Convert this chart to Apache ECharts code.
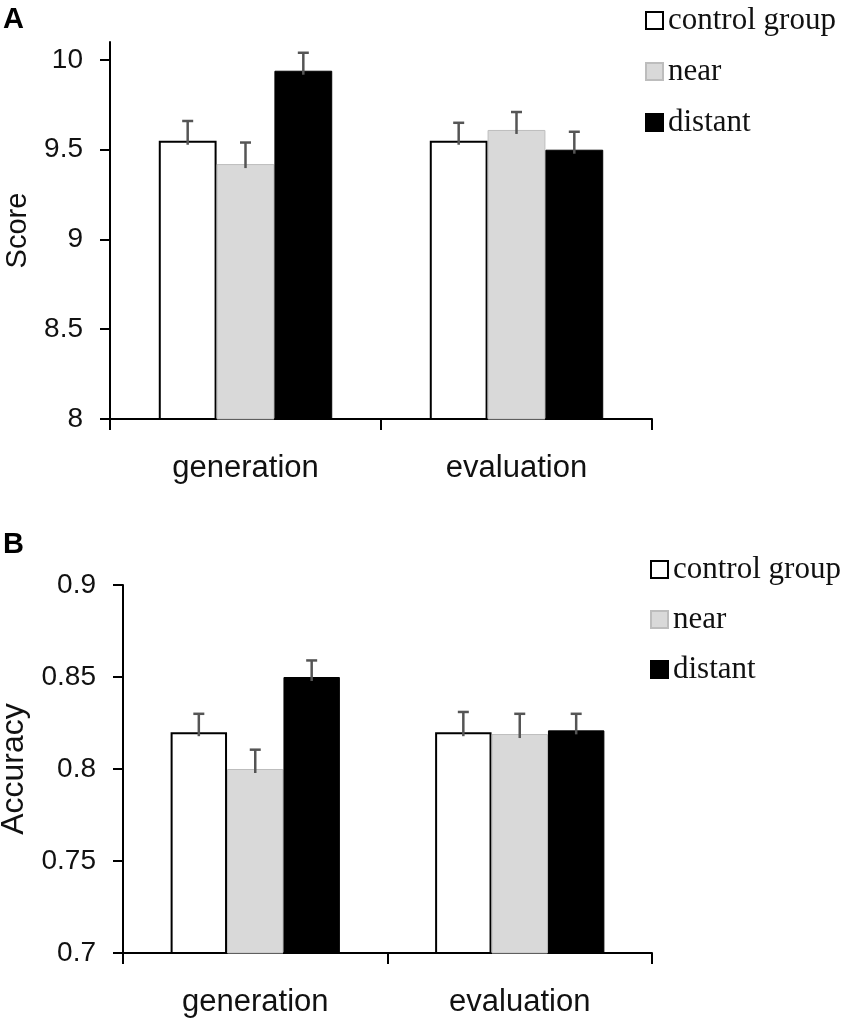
<!DOCTYPE html>
<html>
<head>
<meta charset="utf-8">
<script src="https://cdn.jsdelivr.net/npm/echarts@6/dist/echarts.min.js"></script>
<style>html,body{margin:0;padding:0;background:#fff;}#main{width:850px;height:1019px;}</style>
</head>
<body>
<div id="main"></div>
<script>
const categories = ['generation', 'evaluation'];
const seriesNames = ['control group', 'near', 'distant'];
const scoreTicks = [8, 8.5, 9, 9.5, 10];
const accTicks = [0.7, 0.75, 0.8, 0.85, 0.9];

const scoreControl = [9.55, 9.55];
const scoreNear = [9.42, 9.61];
const scoreDistant = [9.94, 9.50];
const scoreErrControl = [0.11, 0.10];
const scoreErrNear = [0.12, 0.10];
const scoreErrDistant = [0.10, 0.10];

const accControl = [0.82, 0.82];
const accNear = [0.80, 0.819];
const accDistant = [0.85, 0.821];
const accErrControl = [0.01, 0.011];
const accErrNear = [0.0105, 0.011];
const accErrDistant = [0.009, 0.009];

const GAP = 0.36;
const sans = 'Liberation Sans, Arial, sans-serif';
const serif = 'Liberation Serif, Times New Roman, serif';

const barStyles = [
  {color: '#ffffff', borderColor: '#000000', borderWidth: 2},
  {color: '#d9d9d9', borderColor: '#bdbdbd', borderWidth: 1},
  {color: '#000000', borderColor: '#000000', borderWidth: 1}
];

function bars(gi, arrs) {
  return arrs.map((d, k) => ({
    name: seriesNames[k], type: 'bar', xAxisIndex: gi, yAxisIndex: gi,
    data: d, barGap: '0%', barCategoryGap: (GAP * 100) + '%',
    itemStyle: barStyles[k], z: 2, silent: true
  }));
}

function errs(gi, vals, es) {
  return vals.map((v, k) => ({
    type: 'custom', xAxisIndex: gi, yAxisIndex: gi, z: 5, silent: true,
    encode: {x: 0, y: 1},
    data: v.map((val, i) => [i, val, es[k][i]]),
    renderItem: function (params, api) {
      const c = api.value(0), val = api.value(1), e = api.value(2);
      const band = api.size([1, 0])[0];
      const bw = band * (1 - GAP) / 3;
      const p0 = api.coord([c, val]);
      const p1 = api.coord([c, val + e]);
      const x = p0[0] + (k - 1) * bw;
      const st = {stroke: '#555555', lineWidth: 2.5};
      return {type: 'group', children: [
        {type: 'line', shape: {x1: x, y1: p0[1] + 4, x2: x, y2: p1[1]}, style: st},
        {type: 'line', shape: {x1: x - 5.5, y1: p1[1], x2: x + 5.5, y2: p1[1]}, style: st}
      ]};
    }
  }));
}

function xAxis(gi) {
  return {
    type: 'category', gridIndex: gi, data: categories,
    axisLine: {lineStyle: {color: '#000', width: 2}},
    axisTick: {show: true, length: 11, lineStyle: {color: '#000', width: 2}},
    axisLabel: {color: '#111', fontSize: 31, fontFamily: sans, margin: 34}
  };
}

function yAxis(gi, name, min, max, interval, ticks, nameGap) {
  return {
    type: 'value', gridIndex: gi, min: min, max: max, interval: interval,
    name: name, nameLocation: 'middle', nameRotate: 90, nameGap: nameGap,
    nameTextStyle: {color: '#111', fontSize: gi === 0 ? 29 : 32, fontFamily: sans},
    splitLine: {show: false},
    axisLine: {show: true, lineStyle: {color: '#000', width: 2}},
    axisTick: {show: true, length: 10, customValues: ticks, lineStyle: {color: '#000', width: 2}},
    axisLabel: {color: '#111', fontSize: 28, fontFamily: sans, margin: 27, customValues: ticks,
      formatter: v => (ticks.some(t => Math.abs(t - v) < 1e-9) ? String(+v.toFixed(2)) : '')}
  };
}

function legend(left, top, gap) {
  return {
    orient: 'vertical', left: left, top: top, itemWidth: 17, itemHeight: 17, itemGap: gap,
    data: seriesNames, icon: 'rect', selectedMode: false,
    textStyle: {color: '#111', fontSize: 31, fontFamily: serif}
  };
}

const option = {
  animation: false,
  backgroundColor: '#ffffff',
  grid: [
    {left: 110, top: 42, width: 542, height: 377, containLabel: false, outerBoundsMode: 'none'},
    {left: 123, top: 585, width: 529, height: 368, containLabel: false, outerBoundsMode: 'none'}
  ],
  legend: [legend(640, 0, 20), legend(645, 549, 19)],
  xAxis: [xAxis(0), xAxis(1)],
  yAxis: [
    yAxis(0, 'Score', 8, 10.1, 0.5, scoreTicks, 78),
    yAxis(1, 'Accuracy', 0.7, 0.9, 0.05, accTicks, 83)
  ],
  graphic: [
    {type: 'text', left: 3, top: 5, style: {text: 'A', fontSize: 29, fontWeight: 'bold', fontFamily: sans, fill: '#000'}},
    {type: 'text', left: 3, top: 530, style: {text: 'B', fontSize: 29, fontWeight: 'bold', fontFamily: sans, fill: '#000'}}
  ],
  series: [].concat(
    bars(0, [scoreControl, scoreNear, scoreDistant]),
    bars(1, [accControl, accNear, accDistant]),
    errs(0, [scoreControl, scoreNear, scoreDistant], [scoreErrControl, scoreErrNear, scoreErrDistant]),
    errs(1, [accControl, accNear, accDistant], [accErrControl, accErrNear, accErrDistant])
  )
};

const chart = echarts.init(document.getElementById('main'), null, {renderer: 'canvas'});
chart.setOption(option);
</script>
</body>
</html>
